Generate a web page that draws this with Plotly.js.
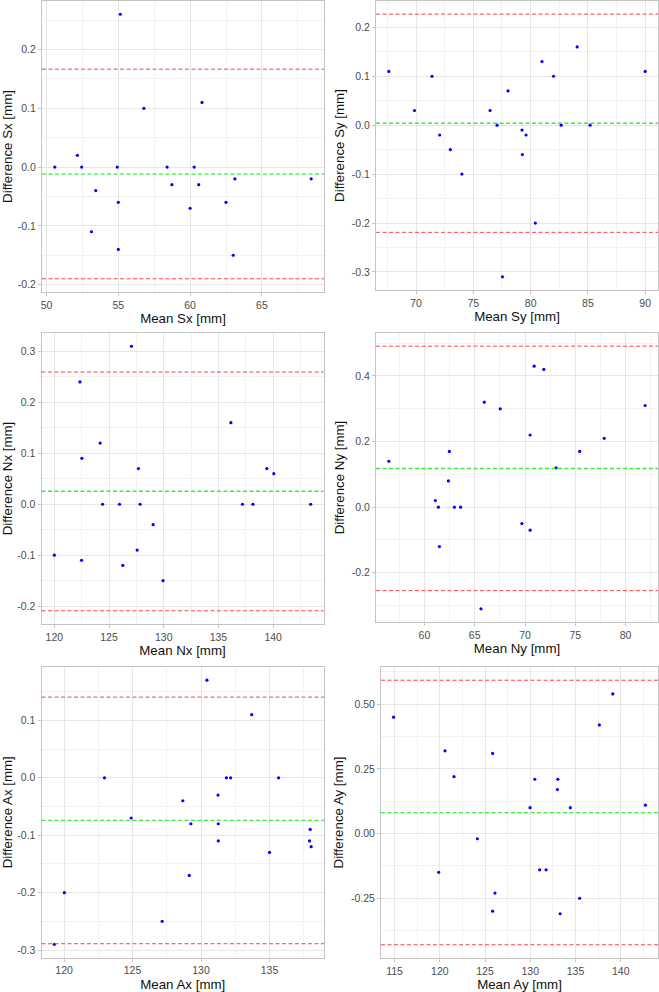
<!DOCTYPE html>
<html><head><meta charset="utf-8">
<script src="https://cdn.plot.ly/plotly-3.0.1.min.js"></script>
<style>html,body{margin:0;padding:0;background:#fff}#chart{width:659px;height:992px}</style>
</head><body><div id="chart"></div>
<script>
// ---- data ----
const sxMean = [50.58,52.15,52.45,53.43,53.13,54.93,55.0,55.0,55.14,56.78,58.4,58.73,60.0,60.28,60.6,60.83,62.5,63.0,63.12,68.43];
const sxDiff = [0,0.02,0,-0.04,-0.11,0,-0.06,-0.14,0.26,0.10,0,-0.03,-0.07,0,-0.03,0.11,-0.06,-0.15,-0.02,-0.02];
const sxLines = [-0.190,-0.012,0.1665];

const syMean = [67.62,69.86,71.39,72.06,72.99,74.0,76.46,77.07,77.54,78.03,79.25,79.28,79.6,80.41,80.99,82.0,82.67,84.06,85.19,90.0];
const syDiff = [0.11,0.03,0.10,-0.02,-0.05,-0.10,0.03,0,-0.31,0.07,-0.01,-0.06,-0.02,-0.20,0.13,0.10,0,0.16,0,0.11];
const syLines = [-0.219,0.004,0.227];

const nxMean = [120.0,122.34,122.52,122.49,124.19,124.41,125.96,126.26,127.05,127.57,127.69,127.84,129.03,129.94,136.14,137.2,138.15,139.42,140.06,143.43];
const nxDiff = [-0.10,0.24,0.09,-0.11,0.12,0,0,-0.12,0.31,-0.09,0.07,0,-0.04,-0.15,0.16,0,0,0.07,0.06,0];
const nxLines = [-0.209,0.0255,0.2595];

const nyMean = [56.46,61.09,61.39,61.49,62.38,62.48,62.98,63.6,65.62,65.95,67.54,69.69,70.51,70.51,70.91,71.87,73.09,75.44,77.88,81.95];
const nyDiff = [0.14,0.02,0,-0.12,0.08,0.17,0,0,-0.31,0.32,0.30,-0.05,0.22,-0.07,0.43,0.42,0.12,0.17,0.21,0.31];
const nyLines = [-0.2545,0.118,0.491];

const axMean = [119.29,120.02,122.95,124.9,127.16,128.67,129.14,129.26,130.43,131.24,131.26,131.26,131.85,132.16,133.7,135.0,135.66,137.97,137.92,138.04];
const axDiff = [-0.29,-0.20,0,-0.07,-0.25,-0.04,-0.17,-0.08,0.17,-0.03,-0.08,-0.11,0,0,0.11,-0.13,0,-0.09,-0.11,-0.12];
const axLines = [-0.289,-0.0740,0.1405];

const ayMean = [114.89,119.87,120.57,121.57,124.15,125.84,125.84,126.1,129.98,130.5,131.04,131.75,133.0,133.05,133.3,134.43,135.46,137.64,139.12,142.73];
const ayDiff = [0.45,-0.15,0.32,0.22,-0.02,0.31,-0.30,-0.23,0.10,0.21,-0.14,-0.14,0.17,0.21,-0.31,0.10,-0.25,0.42,0.54,0.11];
const ayLines = [-0.430,0.081,0.593];

const sxXTicks = [50,55,60,65];
const syXTicks = [70,75,80,85,90];
const nxXTicks = [120,125,130,135,140];
const nyXTicks = [60,65,70,75,80];
const axXTicks = [120,125,130,135];
const ayXTicks = [115,120,125,130,135,140];

const sxYTicks = [-0.2,-0.1,0,0.1,0.2];
const sxYText = ["-0.2","-0.1","0.0","0.1","0.2"];
const syYTicks = [-0.3,-0.2,-0.1,0,0.1,0.2];
const syYText = ["-0.3","-0.2","-0.1","0.0","0.1","0.2"];
const nxYTicks = [-0.2,-0.1,0,0.1,0.2,0.3];
const nxYText = ["-0.2","-0.1","0.0","0.1","0.2","0.3"];
const nyYTicks = [-0.2,0,0.2,0.4];
const nyYText = ["-0.2","0.0","0.2","0.4"];
const axYTicks = [-0.3,-0.2,-0.1,0,0.1];
const axYText = ["-0.3","-0.2","-0.1","0.0","0.1"];
const ayYTicks = [-0.25,0,0.25,0.5];
const ayYText = ["-0.25","0.00","0.25","0.50"];

const varNames = ["Sx","Sy","Nx","Ny","Ax","Ay"];

// ---- layout helpers ----
const W = 659, H = 992;
const boxes = [ // l, r, t, b in px
  [42, 324, 1, 292],
  [376, 658, 1, 290],
  [41.5, 323.5, 333, 624],
  [376, 658, 333, 622],
  [41.5, 324, 667, 957.5],
  [381, 658, 667, 958]
];
const panels = [
  {m: sxMean, d: sxDiff, l: sxLines, xt: sxXTicks, yt: sxYTicks, ytt: sxYText},
  {m: syMean, d: syDiff, l: syLines, xt: syXTicks, yt: syYTicks, ytt: syYText},
  {m: nxMean, d: nxDiff, l: nxLines, xt: nxXTicks, yt: nxYTicks, ytt: nxYText},
  {m: nyMean, d: nyDiff, l: nyLines, xt: nyXTicks, yt: nyYTicks, ytt: nyYText},
  {m: axMean, d: axDiff, l: axLines, xt: axXTicks, yt: axYTicks, ytt: axYText},
  {m: ayMean, d: ayDiff, l: ayLines, xt: ayXTicks, yt: ayYTicks, ytt: ayYText}
];

function expand(vals) {
  const lo = Math.min(...vals), hi = Math.max(...vals);
  const pad = (hi - lo) * 0.05;
  return [lo - pad, hi + pad];
}

const tickFont = {family: "Liberation Sans, Arial, sans-serif", size: 10.5, color: "#4D4D4D"};
const titleFont = {family: "Liberation Sans, Arial, sans-serif", size: 13.3, color: "#111111"};
const lineColors = ["#FF4040", "#3DEB3D", "#FF4040"];

const data = [];
const shapes = [];
const layout = {
  width: W, height: H,
  margin: {l: 0, r: 0, t: 0, b: 0},
  paper_bgcolor: "#FFFFFF", plot_bgcolor: "#FFFFFF",
  showlegend: false,
  shapes: shapes
};

panels.forEach((p, i) => {
  const n = i + 1;
  const xa = n === 1 ? "x" : "x" + n;
  const ya = n === 1 ? "y" : "y" + n;
  const [l, r, t, b] = boxes[i];
  data.push({
    type: "scatter", mode: "markers",
    x: p.m, y: p.d, xaxis: xa, yaxis: ya,
    marker: {color: "#0000FF", size: 3.2},
    hoverinfo: "x+y"
  });
  p.l.forEach((v, k) => {
    shapes.push({
      type: "line", xref: xa + " domain", yref: ya,
      x0: 0, x1: 1, y0: v, y1: v,
      line: {color: lineColors[k], width: k === 1 ? 1.3 : 1, dash: "4px,2.5px"},
      layer: "above"
    });
  });
  const xStep = p.xt[1] - p.xt[0];
  const yStep = p.yt[1] - p.yt[0];
  const common = {
    showline: true, linecolor: "#C4C4C4", linewidth: 1, mirror: true,
    showgrid: true, gridcolor: "#E6E6E6", gridwidth: 1,
    zeroline: false,
    ticks: "outside", ticklen: 3, tickcolor: "#C4C4C4", tickwidth: 1,
    tickfont: tickFont
  };
  layout["xaxis" + (n === 1 ? "" : n)] = Object.assign({}, common, {
    domain: [l / W, r / W], anchor: ya,
    range: expand(p.m),
    tickmode: "array", tickvals: p.xt, ticktext: p.xt.map(String),
    minor: {tickmode: "linear", tick0: p.xt[0] + xStep / 2, dtick: xStep, showgrid: true, gridcolor: "#F2F2F2", gridwidth: 1},
    title: {text: "Mean " + varNames[i] + " [mm]", font: titleFont, standoff: 4}
  });
  layout["yaxis" + (n === 1 ? "" : n)] = Object.assign({}, common, {
    domain: [(H - b) / H, (H - t) / H], anchor: xa,
    range: expand(p.d.concat(p.l)),
    tickmode: "array", tickvals: p.yt, ticktext: p.ytt,
    minor: {tickmode: "linear", tick0: p.yt[0] + yStep / 2, dtick: yStep, showgrid: true, gridcolor: "#F2F2F2", gridwidth: 1},
    title: {text: "Difference " + varNames[i] + " [mm]", font: titleFont, standoff: 4}
  });
});

Plotly.newPlot("chart", data, layout, {displayModeBar: false, staticPlot: true});
</script>
</body></html>
